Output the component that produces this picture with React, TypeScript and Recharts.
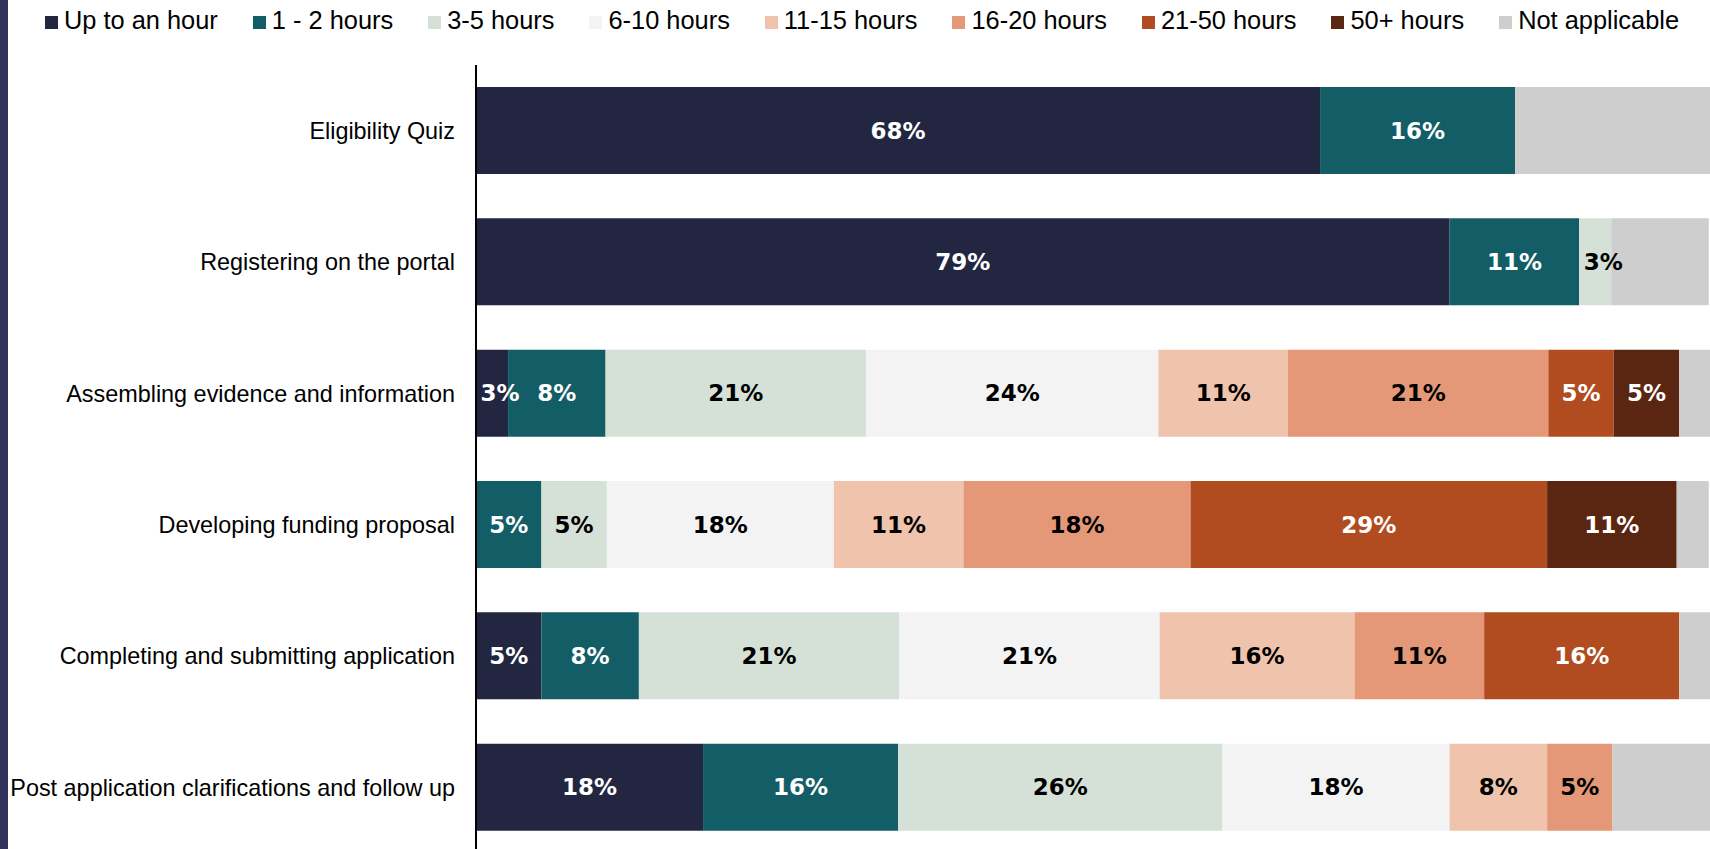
import React from 'react'
import { BarChart, Bar, XAxis, YAxis, Legend, LabelList } from 'recharts'

const categories = [
  'Eligibility Quiz',
  'Registering on the portal',
  'Assembling evidence and information',
  'Developing funding proposal',
  'Completing and submitting application',
  'Post application clarifications and follow up',
]

const seriesNames = [
  'Up to an hour',
  '1 - 2 hours',
  '3-5 hours',
  '6-10 hours',
  '11-15 hours',
  '16-20 hours',
  '21-50 hours',
  '50+ hours',
  'Not applicable',
]

// percent of respondents per task
const upToHour = [68.4, 78.9, 2.6, 0, 5.3, 18.4]
const oneToTwo = [15.8, 10.5, 7.9, 5.3, 7.9, 15.8]
const threeToFive = [0, 2.6, 21.1, 5.3, 21.1, 26.3]
const sixToTen = [0, 0, 23.7, 18.4, 21.1, 18.4]
const elevenToFifteen = [0, 0, 10.5, 10.5, 15.8, 7.9]
const sixteenToTwenty = [0, 0, 21.1, 18.4, 10.5, 5.3]
const twentyOneToFifty = [0, 0, 5.3, 28.9, 15.8, 0]
const fiftyPlus = [0, 0, 5.3, 10.5, 0, 0]
const notApplicable = [15.8, 7.9, 2.6, 2.6, 2.6, 7.9]

const seriesValues = [
  upToHour,
  oneToTwo,
  threeToFive,
  sixToTen,
  elevenToFifteen,
  sixteenToTwenty,
  twentyOneToFifty,
  fiftyPlus,
  notApplicable,
]

const colors = ['#222641', '#135e66', '#d5e0d7', '#f3f3f3', '#f0c3ad', '#e49877', '#b04c1f', '#5a2612', '#cdcecd']
const labelColors = ['#fff', '#fff', '#000', '#000', '#000', '#000', '#fff', '#fff', null]

const data = categories.map((category, i) => {
  const row: Record<string, string | number> = { category }
  seriesValues.forEach((vals, s) => {
    row['s' + s] = vals[i]
  })
  return row
})

const CategoryTick = (props: any) => {
  const { x, y, payload } = props
  return (
    <text x={x} y={y} dy="0.36em" textAnchor="end" fontFamily="'Liberation Sans', Arial, sans-serif" fontSize={23.4} fill="#000">
      {payload.value}
    </text>
  )
}

const renderLegend = (props: any) => {
  const items = [...(props.payload || [])].sort(
    (a: any, b: any) => seriesNames.indexOf(a.value) - seriesNames.indexOf(b.value)
  )
  return (
    <div
      style={{
        height: 44,
        width: 1710,
        display: 'flex',
        justifyContent: 'center',
        alignItems: 'center',
        paddingLeft: 14,
        boxSizing: 'border-box',
        fontFamily: "'Liberation Sans', Arial, sans-serif",
        fontSize: 25.4,
        color: '#000',
        gap: 35,
        paddingBottom: 4,
      }}
    >
      {items.map((entry: any) => (
        <div key={entry.value} style={{ display: 'flex', alignItems: 'center', whiteSpace: 'nowrap' }}>
          <span style={{ display: 'inline-block', width: 13, height: 13, background: entry.color, marginRight: 6, marginTop: 4 }} />
          <span>{entry.value}</span>
        </div>
      ))}
    </div>
  )
}

const makeLabel = (color: string) => (props: any) => {
  const { x, y, width, height, value } = props
  const v = Number(value)
  if (!(v > 0)) return null
  // narrow segments: the label is nudged right, as in the source
  const cx = x + width / 2 + (width < 40 ? 8 : 0)
  return (
    <text
      x={cx}
      y={y + height / 2}
      dy="0.36em"
      textAnchor="middle"
      fill={color}
      fontFamily="'DejaVu Sans', Verdana, sans-serif"
      fontWeight="bold"
      fontSize={23}
    >
      {`${Math.round(v)}%`}
    </text>
  )
}

export default function App() {
  return (
    <div style={{ position: 'absolute', left: 0, top: 0, width: 1710, height: 849, overflow: 'hidden', background: '#fff' }}>
      <div style={{ position: 'absolute', left: 0, top: 0, width: 8, height: 849, background: '#31325a', zIndex: 2 }} />
      <BarChart
        width={1710}
        height={853}
        data={data}
        layout="vertical"
        margin={{ top: 21, right: 0, bottom: 0, left: 0 }}
      >
        <XAxis type="number" domain={[0, 100]} hide allowDataOverflow />
        <YAxis
          type="category"
          dataKey="category"
          width={476}
          axisLine={{ stroke: '#000', strokeWidth: 2 }}
          tickLine={false}
          tickSize={0}
          tickMargin={21}
          tick={<CategoryTick />}
          interval={0}
        />
        <Legend verticalAlign="top" content={renderLegend} wrapperStyle={{ top: 0, left: 0 }} />
        {seriesNames.map((name, s) => (
          <Bar key={name} dataKey={'s' + s} name={name} stackId="a" fill={colors[s]} barSize={87} isAnimationActive={false}>
            {labelColors[s] && (
              <LabelList dataKey={'s' + s} content={makeLabel(labelColors[s] as string)} />
            )}
          </Bar>
        ))}
      </BarChart>
    </div>
  )
}
